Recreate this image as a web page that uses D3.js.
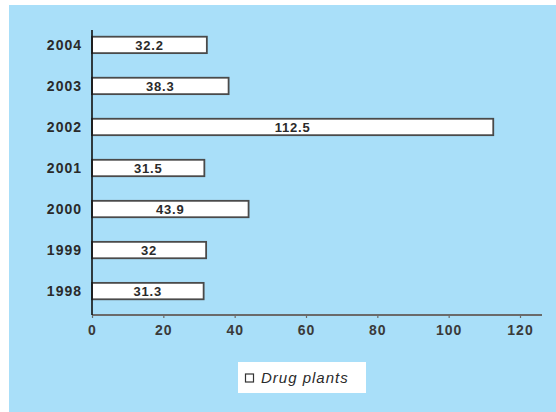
<!DOCTYPE html>
<html>
<head>
<meta charset="utf-8">
<script src="https://cdn.jsdelivr.net/npm/d3@7"></script>
<style>
  html, body { margin: 0; padding: 0; background: #ffffff; }
  svg { display: block; }
  text { font-family: "Liberation Sans", Arial, sans-serif; }
</style>
</head>
<body>
<svg id="chart" width="556" height="412"></svg>
<script>
// Data
const years = ["2004", "2003", "2002", "2001", "2000", "1999", "1998"];
const drugPlants = [32.2, 38.3, 112.5, 31.5, 43.9, 32, 31.3];
const valueLabels = ["32.2", "38.3", "112.5", "31.5", "43.9", "32", "31.3"];
const xTicks = [0, 20, 40, 60, 80, 100, 120];
const seriesName = "Drug plants";

const svg = d3.select("#chart");

// background panel
svg.append("rect")
  .attr("x", 9).attr("y", 5)
  .attr("width", 556 - 9).attr("height", 412 - 5)
  .attr("fill", "#a9dff9");

const x = d3.scaleLinear().domain([0, 120]).range([92, 520]);
const y = d3.scaleBand().domain(years).range([24.4, 311.6])
  .paddingInner(0.6).paddingOuter(0.3);

const axisY = 315;

// bars
const rows = years.map((yr, i) => ({ year: yr, value: drugPlants[i], label: valueLabels[i] }));

svg.append("g").selectAll("rect")
  .data(rows)
  .enter().append("rect")
  .attr("x", x(0))
  .attr("y", d => y(d.year))
  .attr("width", d => x(d.value) - x(0))
  .attr("height", y.bandwidth())
  .attr("fill", "#ffffff")
  .attr("stroke", "#4a4a4a")
  .attr("stroke-width", 1.8);

// value labels
svg.append("g").selectAll("text")
  .data(rows)
  .enter().append("text")
  .attr("x", d => (x(0) + x(d.value)) / 2)
  .attr("y", d => y(d.year) + y.bandwidth() / 2)
  .attr("dy", "0.36em")
  .attr("text-anchor", "middle")
  .attr("font-size", 13)
  .attr("font-weight", "bold")
  .attr("letter-spacing", "0.8")
  .attr("fill", "#2a2a2a")
  .text(d => d.label);

// y category labels
svg.append("g").selectAll("text")
  .data(years)
  .enter().append("text")
  .attr("x", 82)
  .attr("y", d => y(d) + y.bandwidth() / 2)
  .attr("dy", "0.36em")
  .attr("text-anchor", "end")
  .attr("font-size", 14)
  .attr("font-weight", "bold")
  .attr("letter-spacing", "1")
  .attr("fill", "#2a2a2a")
  .text(d => d);

// x axis
const xAxis = d3.axisBottom(x).tickValues(xTicks).tickSize(3).tickSizeOuter(0).tickFormat(d3.format("d"));
const gx = svg.append("g").attr("transform", `translate(0,${axisY})`).call(xAxis);
gx.select(".domain").remove();
gx.append("line")
  .attr("x1", x(0)).attr("x2", 542)
  .attr("y1", 0).attr("y2", 0)
  .attr("stroke", "#6a6a6a").attr("stroke-width", 2);
gx.selectAll(".tick line").attr("stroke", "#6a6a6a").attr("stroke-width", 1.2);
gx.selectAll(".tick text")
  .attr("y", 10)
  .attr("font-size", 14)
  .attr("font-weight", "bold")
  .attr("letter-spacing", "1")
  .attr("font-family", "Liberation Sans, Arial, sans-serif")
  .attr("fill", "#3a3a3a");

// y axis line
svg.append("line")
  .attr("x1", x(0)).attr("x2", x(0))
  .attr("y1", 30).attr("y2", axisY)
  .attr("stroke", "#111").attr("stroke-width", 1.6);

// legend
const lg = svg.append("g").attr("transform", "translate(238,362)");
lg.append("rect").attr("width", 128).attr("height", 31).attr("fill", "#ffffff");
lg.append("rect").attr("x", 7.5).attr("y", 12).attr("width", 8).attr("height", 8)
  .attr("fill", "#ffffff").attr("stroke", "#333").attr("stroke-width", 1.2);
lg.append("text").attr("x", 23).attr("y", 16).attr("dy", "0.36em")
  .attr("font-size", 15).attr("font-style", "italic")
  .attr("letter-spacing", "1")
  .attr("fill", "#2a2a2a")
  .text(seriesName);
</script>
</body>
</html>
